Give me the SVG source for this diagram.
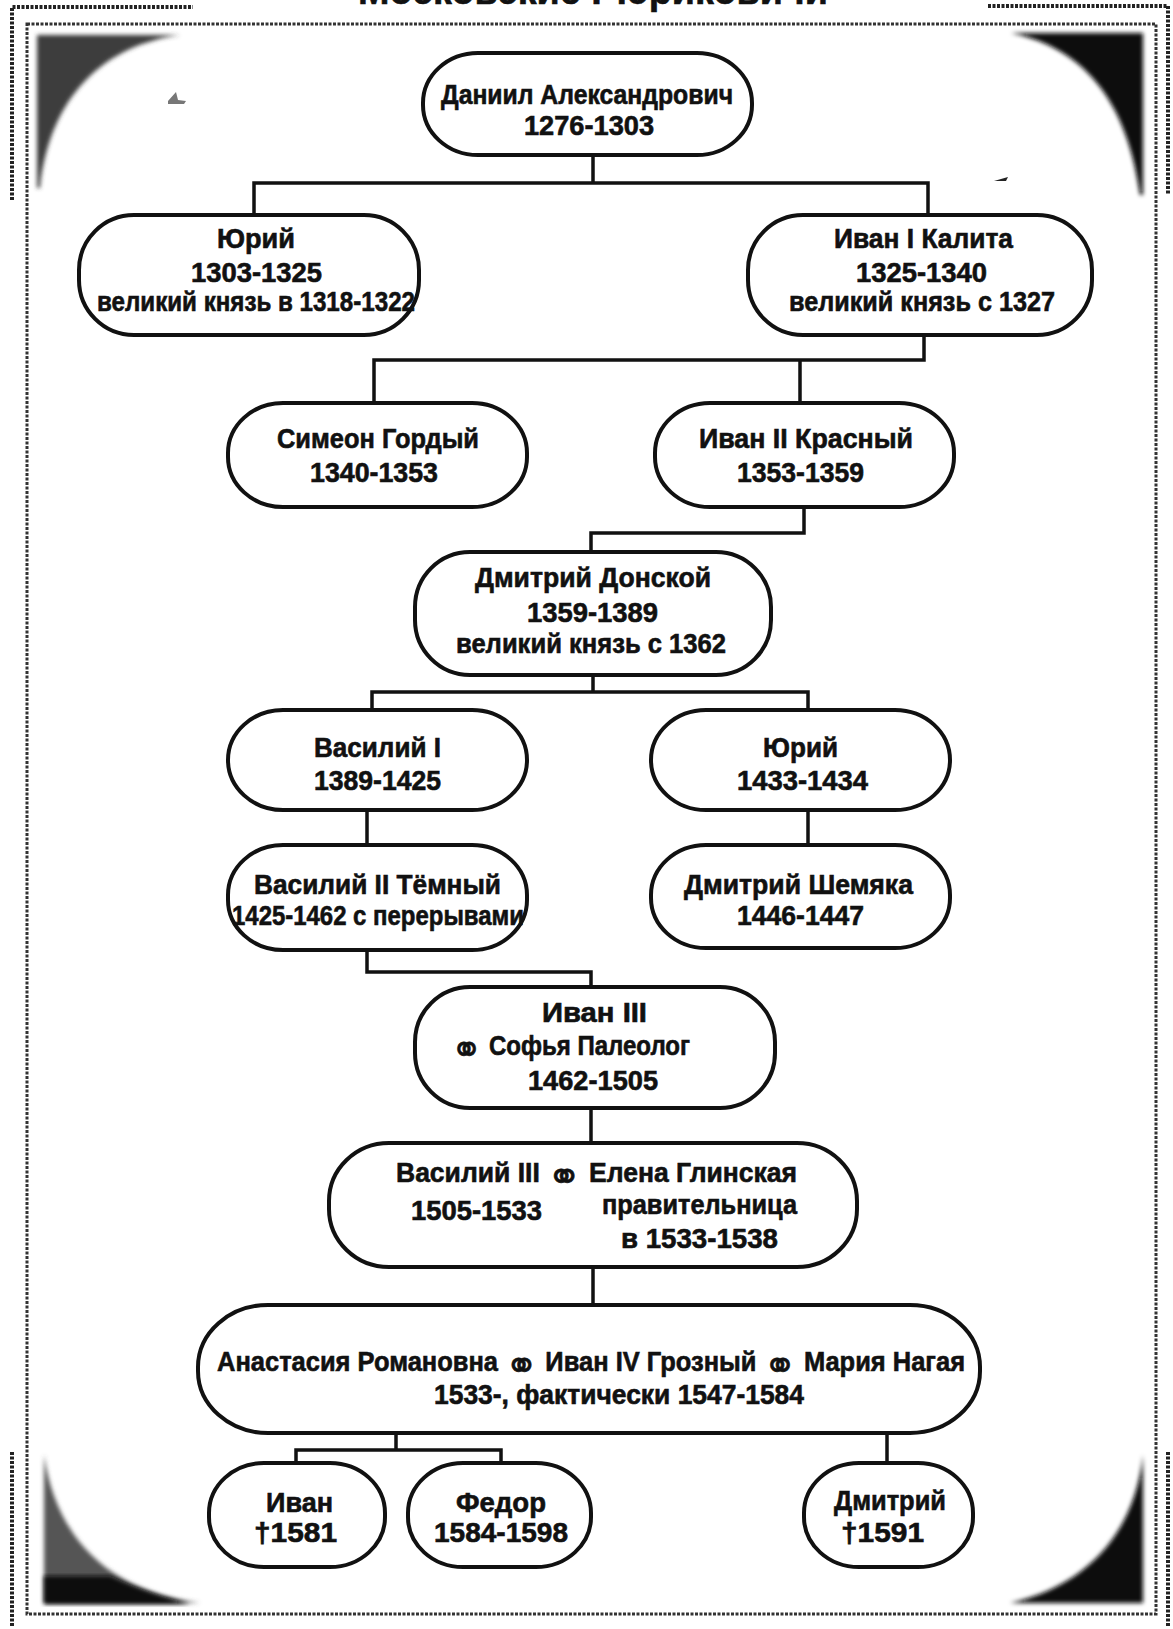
<svg xmlns="http://www.w3.org/2000/svg" width="1173" height="1629" viewBox="0 0 1173 1629">
<style>
.n{fill:#fff;stroke:#111;stroke-width:4}
.c{fill:none;stroke:#111;stroke-width:3.5;stroke-linejoin:miter;stroke-linecap:square}
.t{font-family:"Liberation Sans","DejaVu Sans",sans-serif;font-weight:bold;font-size:27px;fill:#111;stroke:#111;stroke-width:0.6}
.m{font-family:"DejaVu Sans",sans-serif;font-size:42px;font-weight:bold}
.fr{fill:none;stroke:#333;stroke-width:3;stroke-dasharray:3 1.5}
.fo{fill:none;stroke:#222;stroke-width:4;stroke-dasharray:3 1.5}
</style>
<defs>
<filter id="blur" x="-10%" y="-10%" width="120%" height="120%"><feGaussianBlur stdDeviation="2"/></filter>
</defs>
<rect width="1173" height="1629" fill="#fff"/>
<g id="frame">
<text class="t" x="358" y="4" style="font-size:40px" textLength="470" lengthAdjust="spacingAndGlyphs">Московские Рюриковичи</text>
<rect class="fr" x="27" y="24" width="1129" height="1590"/>
<path class="fo" d="M12,200 V7 H193"/>
<path class="fo" d="M988,6 H1168 V195"/>
<path class="fo" d="M12,1452 V1626"/>
<path class="fo" d="M1168,1452 V1626"/>
<path d="M37,35 L180,35 C105,45 50,95 40,188 L37,188 Z" fill="#3c3c3c" filter="url(#blur)"/>
<path d="M1011,33 C1070,45 1125,85 1140,195 L1143,195 L1143,33 Z" fill="#0a0a0a" filter="url(#blur)"/>
<path d="M44,1455 C55,1530 100,1590 200,1603 L44,1603 Z" fill="#555" filter="url(#blur)"/>
<path d="M44,1576 H110 C140,1590 165,1598 190,1604 H44 Z" fill="#111" filter="url(#blur)"/>
<path d="M1143,1455 C1135,1530 1090,1585 1010,1603 L1143,1603 Z" fill="#0a0a0a" filter="url(#blur)"/>
<path d="M168,101 L176,92 L178,100 L186,101 L184,104 L168,104 Z" fill="#777"/>
<path d="M994,181 L1008,177 L1006,181 Z" fill="#222"/>
</g>
<g id="connectors">
<path class="c" d="M593,155 V183 M254,215 V183 H928 V215"/>
<path class="c" d="M924,335 V360 M374,403 V360 H924 M800,360 V403"/>
<path class="c" d="M804,507 V533 H591 V552"/>
<path class="c" d="M593,675 V692 M372,710 V692 H808 V710"/>
<path class="c" d="M367,810 V845 M808,810 V845"/>
<path class="c" d="M367,950 V972 H591 V987"/>
<path class="c" d="M591,1108 V1143"/>
<path class="c" d="M593,1267 V1305"/>
<path class="c" d="M396,1433 V1450 M296,1463 V1450 H501 V1463"/>
<path class="c" d="M887,1433 V1463"/>
</g>
<g id="n-daniil">
<rect class="n" x="423" y="53" width="329" height="102" rx="55" ry="50"/>
<text class="t" x="441" y="104" textLength="292" lengthAdjust="spacingAndGlyphs">Даниил Александрович</text>
<text class="t" x="524" y="135" textLength="130" lengthAdjust="spacingAndGlyphs">1276-1303</text>
</g>
<g id="n-yuri1">
<rect class="n" x="79" y="215" width="340" height="120" rx="55" ry="55"/>
<text class="t" x="217" y="248" textLength="78" lengthAdjust="spacingAndGlyphs">Юрий</text>
<text class="t" x="191" y="282" textLength="131" lengthAdjust="spacingAndGlyphs">1303-1325</text>
<text class="t" x="97" y="311" textLength="318" lengthAdjust="spacingAndGlyphs">великий князь в 1318-1322</text>
</g>
<g id="n-ivan1">
<rect class="n" x="748" y="215" width="344" height="120" rx="55" ry="55"/>
<text class="t" x="834" y="248" textLength="179" lengthAdjust="spacingAndGlyphs">Иван I Калита</text>
<text class="t" x="856" y="282" textLength="131" lengthAdjust="spacingAndGlyphs">1325-1340</text>
<text class="t" x="789" y="311" textLength="266" lengthAdjust="spacingAndGlyphs">великий князь с 1327</text>
</g>
<g id="n-simeon">
<rect class="n" x="228" y="403" width="299" height="104" rx="55" ry="50"/>
<text class="t" x="277" y="448" textLength="202" lengthAdjust="spacingAndGlyphs">Симеон Гордый</text>
<text class="t" x="310" y="482" textLength="128" lengthAdjust="spacingAndGlyphs">1340-1353</text>
</g>
<g id="n-ivan2">
<rect class="n" x="655" y="403" width="299" height="104" rx="55" ry="50"/>
<text class="t" x="699" y="448" textLength="214" lengthAdjust="spacingAndGlyphs">Иван II Красный</text>
<text class="t" x="737" y="482" textLength="127" lengthAdjust="spacingAndGlyphs">1353-1359</text>
</g>
<g id="n-dmitry-donskoy">
<rect class="n" x="415" y="552" width="356" height="123" rx="55" ry="55"/>
<text class="t" x="475" y="587" textLength="236" lengthAdjust="spacingAndGlyphs">Дмитрий Донской</text>
<text class="t" x="527" y="622" textLength="131" lengthAdjust="spacingAndGlyphs">1359-1389</text>
<text class="t" x="456" y="653" textLength="270" lengthAdjust="spacingAndGlyphs">великий князь с 1362</text>
</g>
<g id="n-vasily1">
<rect class="n" x="228" y="710" width="299" height="100" rx="55" ry="50"/>
<text class="t" x="314" y="757" textLength="127" lengthAdjust="spacingAndGlyphs">Василий I</text>
<text class="t" x="314" y="790" textLength="127" lengthAdjust="spacingAndGlyphs">1389-1425</text>
</g>
<g id="n-yuri2">
<rect class="n" x="651" y="710" width="299" height="100" rx="55" ry="50"/>
<text class="t" x="763" y="757" textLength="75" lengthAdjust="spacingAndGlyphs">Юрий</text>
<text class="t" x="737" y="790" textLength="131" lengthAdjust="spacingAndGlyphs">1433-1434</text>
</g>
<g id="n-vasily2">
<rect class="n" x="228" y="845" width="299" height="105" rx="55" ry="50"/>
<text class="t" x="254" y="894" textLength="247" lengthAdjust="spacingAndGlyphs">Василий II Тёмный</text>
<text class="t" x="232" y="925" textLength="292" lengthAdjust="spacingAndGlyphs">1425-1462 с перерывами</text>
</g>
<g id="n-shemyaka">
<rect class="n" x="651" y="845" width="299" height="103" rx="55" ry="50"/>
<text class="t" x="684" y="894" textLength="229" lengthAdjust="spacingAndGlyphs">Дмитрий Шемяка</text>
<text class="t" x="737" y="925" textLength="127" lengthAdjust="spacingAndGlyphs">1446-1447</text>
</g>
<g id="n-ivan3">
<rect class="n" x="415" y="987" width="360" height="121" rx="55" ry="55"/>
<text class="t" x="542" y="1022" textLength="105" lengthAdjust="spacingAndGlyphs">Иван III</text>
<text class="t" x="451" y="1055" textLength="239" lengthAdjust="spacingAndGlyphs"><tspan class="m" dy="9">⚭</tspan><tspan dy="-9"> Софья Палеолог</tspan></text>
<text class="t" x="528" y="1090" textLength="130" lengthAdjust="spacingAndGlyphs">1462-1505</text>
</g>
<g id="n-vasily3">
<rect class="n" x="329" y="1143" width="528" height="124" rx="60" ry="58"/>
<text class="t" x="396" y="1182" textLength="401" lengthAdjust="spacingAndGlyphs">Василий III <tspan class="m" dy="9">⚭</tspan><tspan dy="-9"> Елена Глинская</tspan></text>
<text class="t" x="411" y="1220" textLength="131" lengthAdjust="spacingAndGlyphs">1505-1533</text>
<text class="t" x="602" y="1214" textLength="195" lengthAdjust="spacingAndGlyphs">правительница</text>
<text class="t" x="621" y="1248" textLength="157" lengthAdjust="spacingAndGlyphs">в 1533-1538</text>
</g>
<g id="n-ivan4">
<rect class="n" x="198" y="1305" width="782" height="128" rx="70" ry="62"/>
<text class="t" x="217" y="1371" textLength="748" lengthAdjust="spacingAndGlyphs">Анастасия Романовна <tspan class="m" dy="9">⚭</tspan><tspan dy="-9"> Иван IV Грозный </tspan><tspan class="m" dy="9">⚭</tspan><tspan dy="-9"> Мария Нагая</tspan></text>
<text class="t" x="434" y="1404" textLength="370" lengthAdjust="spacingAndGlyphs">1533-, фактически 1547-1584</text>
</g>
<g id="n-ivan">
<rect class="n" x="209" y="1463" width="176" height="104" rx="55" ry="50"/>
<text class="t" x="266" y="1512" textLength="67" lengthAdjust="spacingAndGlyphs">Иван</text>
<text class="t" x="254" y="1542" textLength="83" lengthAdjust="spacingAndGlyphs">†1581</text>
</g>
<g id="n-fedor">
<rect class="n" x="408" y="1463" width="183" height="104" rx="55" ry="50"/>
<text class="t" x="456" y="1512" textLength="90" lengthAdjust="spacingAndGlyphs">Федор</text>
<text class="t" x="434" y="1542" textLength="134" lengthAdjust="spacingAndGlyphs">1584-1598</text>
</g>
<g id="n-dmitry">
<rect class="n" x="804" y="1463" width="169" height="104" rx="55" ry="50"/>
<text class="t" x="834" y="1510" textLength="112" lengthAdjust="spacingAndGlyphs">Дмитрий</text>
<text class="t" x="841" y="1542" textLength="83" lengthAdjust="spacingAndGlyphs">†1591</text>
</g>
</svg>
